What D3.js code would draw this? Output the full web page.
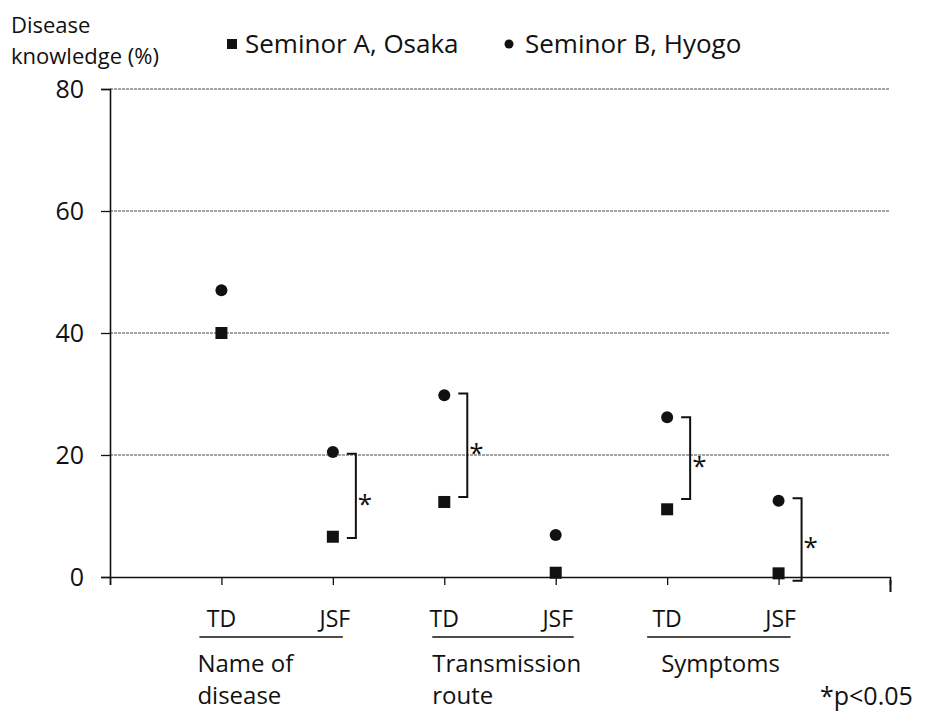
<!doctype html>
<html lang="en">
<head>
<meta charset="utf-8">
<script src="https://cdn.jsdelivr.net/npm/d3@7/dist/d3.min.js"></script>
<style>
  body { margin: 0; background: #fff; }
  text { font-family: "Open Sans", Lato, sans-serif; fill: #111; }
</style>
</head>
<body>
<script>
    // data
    var groupLines = [["Name of", "disease"], ["Transmission", "route"], ["Symptoms"]];
    var kinds = ["TD", "JSF"];
    var seminorA = [40, 6.6, 12.3, 0.7, 11.1, 0.6];   // Seminor A, Osaka (square)
    var seminorB = [47, 20.5, 29.8, 6.9, 26.2, 12.5];  // Seminor B, Hyogo (circle)
    var yTicks = [0, 20, 40, 60, 80];
    // significance brackets: slot (1..6), top value, bottom value
    var sigSlots = [2, 3, 5, 6];
    var sigTop = [20.2, 30.1, 26.2, 12.9];
    var sigBottom = [6.4, 13.1, 12.8, -0.6];

    var width = 947, height = 721;
    var margin = {top: 89, right: 57, bottom: 144, left: 110};
    var w = width - margin.left - margin.right,
        h = height - margin.top - margin.bottom;

    var svg = d3.select("body").append("svg")
        .attr("width", width)
        .attr("height", height);

    var g = svg.append("g")
        .attr("transform", "translate(" + margin.left + "," + margin.top + ")");

    var x = d3.scaleLinear().domain([0, 7]).range([0, w]);
    var y = d3.scaleLinear().domain([0, 80]).range([h, 0]);

    // gridlines
    g.selectAll(".grid").data(yTicks.slice(1)).enter()
        .append("line")
        .attr("x1", 0).attr("x2", w)
        .attr("y1", function(d) { return y(d); })
        .attr("y2", function(d) { return y(d); })
        .attr("stroke", "#444")
        .attr("stroke-width", 1)
        .attr("stroke-dasharray", "3,1");

    // y axis
    var yAxis = d3.axisLeft(y).tickValues(yTicks).tickSize(9).tickPadding(17);
    var ya = g.append("g").call(yAxis);
    ya.select(".domain").attr("stroke", "#111").attr("stroke-width", 1.6);
    ya.selectAll(".tick line").attr("stroke", "#111").attr("stroke-width", 1.3);
    ya.selectAll("text").style("font-size", "25px").attr("fill", "#111");

    // x axis
    var xAxis = d3.axisBottom(x).tickValues(d3.range(0, 8)).tickSize(8).tickFormat("");
    var xa = g.append("g").attr("transform", "translate(0," + h + ")").call(xAxis);
    xa.select(".domain").attr("stroke", "#111").attr("stroke-width", 1.6);
    xa.selectAll(".tick line").attr("stroke", "#111").attr("stroke-width", 1.3);
    xa.selectAll(".tick line").filter(function(d) { return d === 7; }).attr("y1", 3).attr("y2", 15).attr("stroke-width", 2);

    // points
    var slots = d3.range(1, 7);
    g.selectAll(".sq").data(seminorA).enter()
        .append("rect")
        .attr("x", function(d, i) { return x(slots[i]) - 6; })
        .attr("y", function(d) { return y(d) - 6; })
        .attr("width", 12).attr("height", 12)
        .attr("fill", "#111");

    g.selectAll(".ci").data(seminorB).enter()
        .append("circle")
        .attr("cx", function(d, i) { return x(slots[i]); })
        .attr("cy", function(d) { return y(d); })
        .attr("r", 6)
        .attr("fill", "#111");

    // significance brackets
    sigSlots.forEach(function(s, i) {
        var bx = x(s) + 23;
        var t = y(sigTop[i]), b = y(sigBottom[i]);
        g.append("path")
            .attr("d", "M" + (bx - 9) + "," + t + "H" + bx + "V" + b + "H" + (bx - 9))
            .attr("fill", "none")
            .attr("stroke", "#111")
            .attr("stroke-width", 2);
        g.append("text")
            .attr("x", bx + 2)
            .attr("y", (t + b) / 2 + 17)
            .style("font-size", "26px")
            .text("*");
    });

    // category labels
    slots.forEach(function(s, i) {
        g.append("text")
            .attr("x", x(s) + (i % 2 === 0 ? 0 : 2))
            .attr("y", 627 - margin.top)
            .attr("text-anchor", "middle")
            .style("font-size", "23px")
            .text(kinds[i % 2]);
    });
    var lineStart = [-22, -12, -20], lineEnd = [10, 18, 12], labelShift = [-2, 0, 14];
    groupLines.forEach(function(lines, i) {
        var x0 = x(i * 2 + 1) + lineStart[i], x1 = x(i * 2 + 2) + lineEnd[i];
        g.append("line")
            .attr("x1", x0).attr("x2", x1)
            .attr("y1", 637 - margin.top).attr("y2", 637 - margin.top)
            .attr("stroke", "#111").attr("stroke-width", 1.6);
        var tx = g.append("text")
            .attr("y", 672 - margin.top)
            .style("font-size", "24px");
        lines.forEach(function(line, k) {
            tx.append("tspan")
                .attr("x", x0 + labelShift[i])
                .attr("dy", k === 0 ? 0 : 32)
                .text(line);
        });
    });

    svg.append("text")
        .attr("x", 820).attr("y", 705)
        .style("font-size", "25px")
        .text("*p<0.05");

    // y title
    svg.append("text").attr("x", 11).attr("y", 33).style("font-size", "22px").text("Disease");
    svg.append("text").attr("x", 11).attr("y", 64).style("font-size", "22px").text("knowledge (%)");

    // legend
    var legend = svg.append("g").attr("transform", "translate(232,44)");
    legend.append("rect").attr("x", -5).attr("y", -5).attr("width", 10).attr("height", 10).attr("fill", "#111");
    legend.append("text").attr("x", 13).attr("y", 9).style("font-size", "26px").text("Seminor A, Osaka");
    legend.append("circle").attr("cx", 277).attr("cy", 0).attr("r", 4.5).attr("fill", "#111");
    legend.append("text").attr("x", 293).attr("y", 9).style("font-size", "26px").text("Seminor B, Hyogo");
</script>
</body>
</html>
